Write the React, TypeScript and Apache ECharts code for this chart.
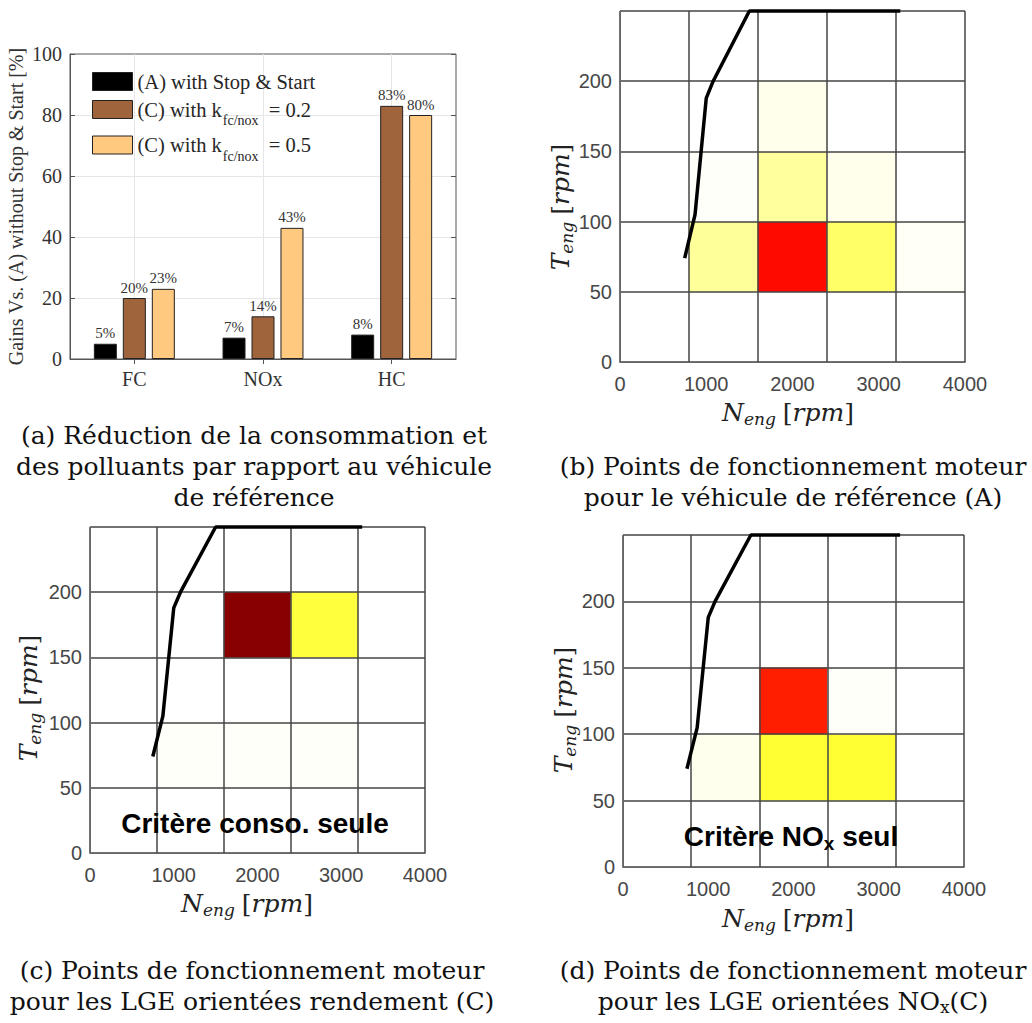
import React, { useEffect, useRef } from 'react';
import * as echarts from 'echarts';

// ---------- data ----------
const gainCategories = ['FC', 'NOx', 'HC'];
const seriesNames = ['(A) with Stop & Start', '(C) with k_fc/nox = 0.2', '(C) with k_fc/nox = 0.5'];
const gainsA = [5, 7, 8];
const gainsC02 = [20, 14, 83];
const gainsC05 = [23, 43, 80];

const speedBins = ['0-800', '800-1600', '1600-2400', '2400-3200', '3200-4000'];
const torqueBins = ['0-50', '50-100', '100-150', '150-200', '200-250'];

// [speed bin index, torque bin index, share of operating time]
const pointsRef = [[1, 1, 0.1], [2, 1, 0.61], [3, 1, 0.15], [4, 1, 0.01], [1, 2, 0.005], [2, 2, 0.098], [3, 2, 0.02], [2, 3, 0.02]];
const pointsConso = [[1, 1, 0.006], [2, 1, 0.006], [3, 1, 0.006], [2, 3, 0.8], [3, 3, 0.19]];
const pointsNox = [[1, 1, 0.017], [2, 1, 0.2], [3, 1, 0.2], [2, 2, 0.58], [3, 2, 0.006]];

const fullLoadSpeed = [750, 870, 1000, 1080, 1500, 3250];
const fullLoadTorque = [74, 105, 188, 200, 250, 250];

const hotReversed = ['#ffffff', '#ffff80', '#ffff00', '#ffaa00', '#ff5500', '#ff0000', '#aa0000', '#550000', '#000000'];

// ---------- styles ----------
const SERIF = 'Liberation Serif';
const CAP = 'DejaVu Serif';
const SANS = 'Liberation Sans';
const tickColor = '#474747';
const frameColor = '#666';
const gridColor = '#444';

const panels = [
  { grid: { left: 620, top: 11, width: 345, height: 351 }, data: pointsRef },
  { grid: { left: 90, top: 527, width: 335, height: 326 }, data: pointsConso },
  { grid: { left: 623, top: 535, width: 341, height: 332 }, data: pointsNox },
];

function buildOption() {
  const grids: any[] = [
    { left: 70, top: 54, width: 386, height: 305, show: true, borderColor: '#555', borderWidth: 1, backgroundColor: 'transparent' },
  ];
  const topCats = gainCategories.flatMap((c) => ['', c]).concat(['']);
  const xAxes: any[] = [
    {
      gridIndex: 0, type: 'category', data: gainCategories,
      axisLine: { show: true, lineStyle: { color: '#555' } },
      axisTick: { show: true, inside: true, alignWithLabel: true, length: 5, lineStyle: { color: '#555' } },
      axisLabel: { fontFamily: SERIF, fontSize: 20, color: '#333', margin: 10 },
      splitLine: { show: false },
    },
    {
      gridIndex: 0, type: 'category', data: topCats, position: 'top', boundaryGap: false,
      axisLine: { show: false },
      axisTick: { show: true, inside: true, length: 5, interval: (i: number) => i % 2 === 1, lineStyle: { color: '#555' } },
      axisLabel: { show: false },
      splitLine: { show: true, interval: (i: number) => i % 2 === 1, lineStyle: { color: '#e6e6e6', width: 1 } },
    },
  ];
  const yAxes: any[] = [
    {
      gridIndex: 0, type: 'value', min: 0, max: 100, interval: 20,
      name: 'Gains Vs. (A) without Stop & Start [%]', nameLocation: 'middle', nameGap: 44,
      nameTextStyle: { fontFamily: SERIF, fontSize: 20, color: '#333' },
      axisLine: { show: true, lineStyle: { color: '#555' } },
      axisTick: { show: true, inside: true, length: 5, lineStyle: { color: '#555' } },
      axisLabel: { fontFamily: SERIF, fontSize: 20, color: '#333', margin: 8 },
      splitLine: { show: true, showMinLine: false, showMaxLine: false, lineStyle: { color: '#e6e6e6', width: 1 } },
    },
    {
      gridIndex: 0, type: 'value', min: 0, max: 100, interval: 20, position: 'right',
      axisLine: { show: false },
      axisTick: { show: true, inside: true, length: 5, lineStyle: { color: '#555' } },
      axisLabel: { show: false },
      splitLine: { show: false },
    },
  ];

  const barStyle = (color: string) => ({ color, borderColor: '#222', borderWidth: 1 });
  const barLabel = { show: true, position: 'top', distance: 3, formatter: '{c}%', fontFamily: SERIF, fontSize: 15, color: '#333' };
  const series: any[] = [
    { name: seriesNames[0], type: 'bar', xAxisIndex: 0, yAxisIndex: 0, data: gainsA, barWidth: 23, barGap: '26%', itemStyle: barStyle('#000000'), label: barLabel },
    { name: seriesNames[1], type: 'bar', xAxisIndex: 0, yAxisIndex: 0, data: gainsC02, barWidth: 23, barGap: '26%', itemStyle: barStyle('#a0643c'), label: barLabel },
    { name: seriesNames[2], type: 'bar', xAxisIndex: 0, yAxisIndex: 0, data: gainsC05, barWidth: 23, barGap: '26%', itemStyle: barStyle('#ffc97f'), label: barLabel },
  ];
  const heatIdx: number[] = [];

  panels.forEach((p, i) => {
    const g = i + 1;
    grids.push({ ...p.grid, show: false });
    const xv = xAxes.length;
    xAxes.push(
      {
        gridIndex: g, type: 'value', min: 0, max: 4000, interval: 1000, position: 'bottom',
        axisLine: { show: true, onZero: false, lineStyle: { color: frameColor, width: 1 } },
        axisTick: { show: false }, splitLine: { show: false },
        axisLabel: { color: tickColor, fontFamily: SANS, fontSize: 20, margin: 12, formatter: (v: number) => String(v) }, z: 4,
      },
      {
        gridIndex: g, type: 'category', data: speedBins, position: 'top',
        axisLine: { show: true, lineStyle: { color: frameColor, width: 1 } },
        axisTick: { show: false }, axisLabel: { show: false, interval: 0 },
        splitLine: { show: true, interval: 0, lineStyle: { color: gridColor, width: 1.5 } }, z: 4,
      },
    );
    const yv = yAxes.length;
    yAxes.push(
      {
        gridIndex: g, type: 'value', min: 0, max: 250, interval: 50, position: 'left',
        axisLine: { show: true, onZero: false, lineStyle: { color: frameColor, width: 1 } },
        axisTick: { show: false }, splitLine: { show: false },
        axisLabel: { color: tickColor, fontFamily: SANS, fontSize: 20, margin: 8, formatter: (v: number) => (v === 250 ? '' : String(v)) }, z: 4,
      },
      {
        gridIndex: g, type: 'category', data: torqueBins, position: 'right',
        axisLine: { show: true, lineStyle: { color: frameColor, width: 1 } },
        axisTick: { show: false }, axisLabel: { show: false, interval: 0 },
        splitLine: { show: true, interval: 0, lineStyle: { color: gridColor, width: 1.5 } }, z: 4,
      },
    );
    heatIdx.push(series.length);
    series.push({
      type: 'heatmap', xAxisIndex: xv + 1, yAxisIndex: yv + 1, data: p.data,
      itemStyle: { borderWidth: 0 }, emphasis: { disabled: true }, z: 2,
    });
    series.push({
      type: 'line', xAxisIndex: xv, yAxisIndex: yv,
      data: fullLoadSpeed.map((s, k) => [s, fullLoadTorque[k]]),
      symbol: 'none', clip: false, lineStyle: { color: '#000', width: 3.5 }, z: 10,
    });
  });

  const nameRich = {
    i: { fontFamily: CAP, fontStyle: 'italic', fontSize: 25, fill: '#222' },
    s: { fontFamily: CAP, fontStyle: 'italic', fontSize: 17, fill: '#222', padding: [14, 0, 0, 0] },
    n: { fontFamily: CAP, fontSize: 25, fill: '#222', padding: [0, 0, 0, 7] },
    c: { fontFamily: CAP, fontSize: 25, fill: '#222' },
  };
  const axisNameText = '{i|N}{s|eng}{n|[}{i|rpm}{c|]}';
  const axisNameTextY = '{i|T}{s|eng}{n|[}{i|rpm}{c|]}';
  const nameEl = (x: number, y: number, txt: string, rot: number) => ({
    type: 'text', x, y, rotation: rot, silent: true,
    style: { text: txt, rich: nameRich, align: 'center', verticalAlign: 'middle', fill: '#222' },
  });

  const capEl = (x: number, y: number, txt: string) => ({
    type: 'text', x, y, silent: true,
    style: {
      text: txt, fontFamily: CAP, fontSize: 25, fill: '#111', align: 'center', verticalAlign: 'middle',
      rich: { sub: { fontFamily: CAP, fontSize: 17, fill: '#111', padding: [12, 0, 0, 0] } },
    },
  });

  const graphic: any[] = [
    nameEl(788, 412, axisNameText, 0),
    nameEl(560, 207, axisNameTextY, Math.PI / 2),
    nameEl(247, 903, axisNameText, 0),
    nameEl(28, 698, axisNameTextY, Math.PI / 2),
    nameEl(788, 918, axisNameText, 0),
    nameEl(563, 710, axisNameTextY, Math.PI / 2),
    capEl(254, 435, '(a) Réduction de la consommation et'),
    capEl(254, 466, 'des polluants par rapport au véhicule'),
    capEl(254, 497, 'de référence'),
    capEl(793, 466, '(b) Points de fonctionnement moteur'),
    capEl(793, 497, 'pour le véhicule de référence (A)'),
    capEl(252, 970, '(c) Points de fonctionnement moteur'),
    capEl(252, 1001, 'pour les LGE orientées rendement (C)'),
    capEl(793, 970, '(d) Points de fonctionnement moteur'),
    capEl(793, 1001, 'pour les LGE orientées NO{sub|x}(C)'),
    {
      type: 'text', x: 255, y: 823, silent: true, z: 20,
      style: { text: 'Critère conso. seule', fontFamily: SANS, fontWeight: 'bold', fontSize: 28, fill: '#000', align: 'center', verticalAlign: 'middle' },
    },
    {
      type: 'text', x: 791, y: 836, silent: true, z: 20,
      style: {
        text: 'Critère NO{sub|x} seul', fontFamily: SANS, fontWeight: 'bold', fontSize: 28, fill: '#000', align: 'center', verticalAlign: 'middle',
        rich: { sub: { fontFamily: SANS, fontWeight: 'bold', fontSize: 19, fill: '#000', padding: [14, 0, 0, 0] } },
      },
    },
  ];

  return {
    animation: false,
    backgroundColor: '#ffffff',
    grid: grids,
    xAxis: xAxes,
    yAxis: yAxes,
    legend: {
      data: seriesNames, left: 92, top: 71, orient: 'vertical', itemWidth: 40, itemHeight: 18, itemGap: 7,
      padding: 0, selectedMode: false, icon: 'rect',
      itemStyle: { borderColor: '#222', borderWidth: 1 },
      formatter: (name: string) => name.replace('k_fc/nox ', 'k{sub|fc/nox}  '),
      textStyle: {
        fontFamily: SERIF, fontSize: 20.5, color: '#262626',
        rich: { sub: { fontFamily: SERIF, fontSize: 14, color: '#262626', padding: [22, 0, 0, 1] } },
      },
    },
    visualMap: {
      type: 'continuous', show: false, min: 0, max: 1, dimension: 2, seriesIndex: heatIdx,
      inRange: { color: hotReversed },
    },
    series,
    graphic,
  };
}

export default function App() {
  const ref = useRef<HTMLDivElement>(null);
  useEffect(() => {
    const chart = echarts.init(ref.current!, null, { renderer: 'svg' });
    chart.setOption(buildOption() as any);
    return () => chart.dispose();
  }, []);
  return <div ref={ref} style={{ position: 'absolute', left: 0, top: 0, width: 1032, height: 1023, background: '#fff' }} />;
}
